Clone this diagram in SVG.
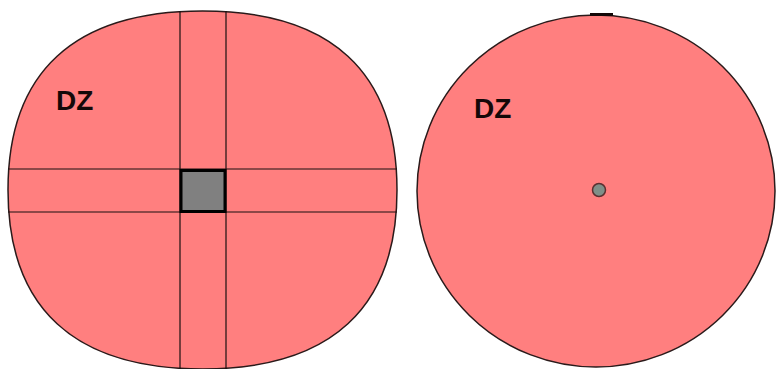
<svg xmlns="http://www.w3.org/2000/svg" width="776" height="369" viewBox="0 0 776 369">
<style>
.zone{fill:#ff7f7f;stroke:#2a1a1a;stroke-width:1.5}
.grid{stroke:#1a1010;stroke-width:1.2;fill:none}
.lbl{font-family:"Liberation Sans",Arial,sans-serif;font-weight:bold;font-size:28px;fill:#140808}
</style>
<rect width="776" height="369" fill="#ffffff"/>
<g id="left-zone">
<path class="zone" d="M8,190 C8,71.9 74.1,11 202.5,11 C330.9,11 397,71.9 397,190 C397,308.1 330.9,369 202.5,369 C74.1,369 8,308.1 8,190 Z"/>
<line class="grid" x1="180" y1="11" x2="180" y2="369"/>
<line class="grid" x1="226" y1="11" x2="226" y2="369"/>
<line class="grid" x1="8" y1="169" x2="397" y2="169"/>
<line class="grid" x1="8" y1="212" x2="397" y2="212"/>
<rect x="181" y="170.5" width="44" height="41" fill="#808080" stroke="#000" stroke-width="3"/>
<text class="lbl" x="56" y="110">DZ</text>
</g>
<g id="right-zone">
<ellipse class="zone" cx="596" cy="191" rx="179" ry="176"/>
<rect x="590" y="13" width="23" height="3" fill="#140808"/>
<circle cx="599" cy="190" r="6.5" fill="#7f8f88" stroke="#5a3030" stroke-width="1.5"/>
<text class="lbl" x="474" y="118">DZ</text>
</g>
</svg>
